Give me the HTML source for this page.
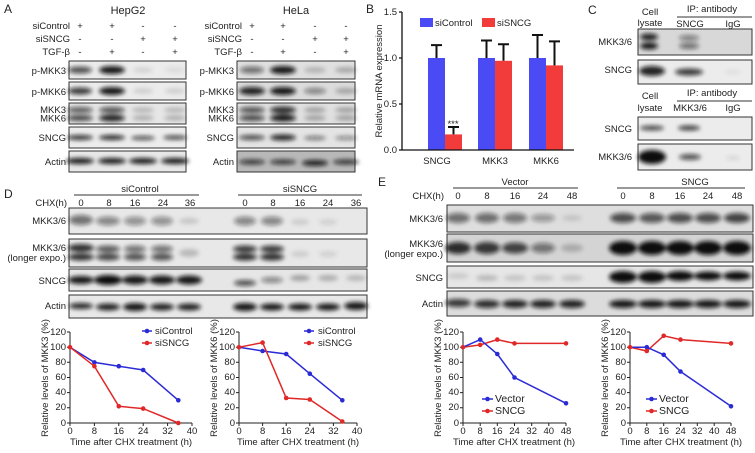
<!DOCTYPE html>
<html><head><meta charset="utf-8"><style>
body{margin:0;background:#fff}
svg{display:block;font-family:"Liberation Sans",sans-serif}
text{fill:#222}
.s{font-size:9.5px}.m{font-size:11px}.l{font-size:12px}
.r{text-anchor:end}.c{text-anchor:middle}
</style></head><body>
<svg width="755" height="453" viewBox="0 0 755 453">
<defs>
<filter id="b" x="-50%" y="-80%" width="200%" height="260%"><feGaussianBlur stdDeviation="2"/></filter>
</defs>

<!-- ===== Panel A ===== -->
<text x="4" y="13" class="l">A</text>
<text x="128" y="14" class="m c">HepG2</text>
<text x="296" y="14" class="m c">HeLa</text>
<g class="s">
<text x="70" y="29" class="r">siControl</text><text x="70" y="42" class="r">siSNCG</text><text x="70" y="55" class="r">TGF-β</text>
<text x="80" y="29" class="c">+</text><text x="112" y="29" class="c">+</text><text x="143" y="29" class="c">-</text><text x="175" y="29" class="c">-</text>
<text x="80" y="42" class="c">-</text><text x="112" y="42" class="c">-</text><text x="143" y="42" class="c">+</text><text x="175" y="42" class="c">+</text>
<text x="80" y="55" class="c">-</text><text x="112" y="55" class="c">+</text><text x="143" y="55" class="c">-</text><text x="175" y="55" class="c">+</text>
<text x="242" y="29" class="r">siControl</text><text x="242" y="42" class="r">siSNCG</text><text x="242" y="55" class="r">TGF-β</text>
<text x="252" y="29" class="c">+</text><text x="283" y="29" class="c">+</text><text x="315" y="29" class="c">-</text><text x="346" y="29" class="c">-</text>
<text x="252" y="42" class="c">-</text><text x="283" y="42" class="c">-</text><text x="315" y="42" class="c">+</text><text x="346" y="42" class="c">+</text>
<text x="252" y="55" class="c">-</text><text x="283" y="55" class="c">+</text><text x="315" y="55" class="c">-</text><text x="346" y="55" class="c">+</text>
<text x="66" y="74" class="r">p-MKK3</text><text x="66" y="95" class="r">p-MKK6</text><text x="66" y="113" class="r">MKK3</text><text x="66" y="121.5" class="r">MKK6</text><text x="66" y="141" class="r">SNCG</text><text x="66" y="165" class="r">Actin</text>
<text x="234" y="74" class="r">p-MKK3</text><text x="234" y="95" class="r">p-MKK6</text><text x="234" y="113" class="r">MKK3</text><text x="234" y="121.5" class="r">MKK6</text><text x="234" y="141" class="r">SNCG</text><text x="234" y="165" class="r">Actin</text>
</g>
<g stroke="#333" stroke-width="1">
<rect x="69" y="61" width="117" height="18" fill="#ececec"/><rect x="69" y="82" width="117" height="18" fill="#ececec"/><rect x="69" y="103" width="117" height="21" fill="#e6e6e6"/><rect x="69" y="127" width="117" height="21" fill="#ececec"/><rect x="69" y="151" width="117" height="21" fill="#e8e8e8"/>
<rect x="237" y="61" width="118" height="18" fill="#e0e0e0"/><rect x="237" y="82" width="118" height="18" fill="#dcdcdc"/><rect x="237" y="103" width="118" height="21" fill="#e0e0e0"/><rect x="237" y="127" width="118" height="21" fill="#e4e4e4"/><rect x="237" y="151" width="118" height="21" fill="#b8b8b8"/>
</g>
<g filter="url(#b)" fill="#111">
<ellipse cx="80" cy="70" rx="12" ry="3.5" opacity=".7"/><ellipse cx="112" cy="70" rx="13" ry="4" opacity=".95"/><ellipse cx="143" cy="70" rx="10" ry="3" opacity=".1"/><ellipse cx="175" cy="70" rx="10" ry="3" opacity=".07"/>
<ellipse cx="80" cy="91" rx="12" ry="3.5" opacity=".8"/><ellipse cx="112" cy="91" rx="13" ry="4" opacity=".95"/><ellipse cx="143" cy="91" rx="10" ry="3" opacity=".12"/><ellipse cx="175" cy="91" rx="10" ry="3" opacity=".12"/>
<ellipse cx="80" cy="110" rx="13" ry="3" opacity=".65"/><ellipse cx="80" cy="118" rx="13" ry="3" opacity=".75"/><ellipse cx="112" cy="110" rx="13" ry="3" opacity=".7"/><ellipse cx="112" cy="118" rx="13" ry="3.5" opacity=".9"/><ellipse cx="143" cy="110" rx="11" ry="2.5" opacity=".22"/><ellipse cx="143" cy="118" rx="11" ry="2.5" opacity=".25"/><ellipse cx="175" cy="110" rx="11" ry="2.5" opacity=".22"/><ellipse cx="175" cy="118" rx="11" ry="2.5" opacity=".25"/>
<ellipse cx="80" cy="137.5" rx="13" ry="2.5" opacity=".85"/><ellipse cx="112" cy="137.5" rx="13" ry="2.5" opacity=".9"/><ellipse cx="143" cy="138" rx="12" ry="2" opacity=".75"/><ellipse cx="175" cy="137.5" rx="12" ry="2" opacity=".8"/>
<ellipse cx="80" cy="161" rx="14" ry="3" opacity=".95"/><ellipse cx="112" cy="161" rx="14" ry="3" opacity=".95"/><ellipse cx="143" cy="161" rx="14" ry="3" opacity=".95"/><ellipse cx="175" cy="161" rx="14" ry="3" opacity=".95"/>
<ellipse cx="252" cy="70" rx="12" ry="3.5" opacity=".55"/><ellipse cx="283" cy="70" rx="13" ry="4" opacity=".95"/><ellipse cx="315" cy="70" rx="11" ry="3" opacity=".2"/><ellipse cx="346" cy="70" rx="11" ry="3" opacity=".25"/>
<ellipse cx="252" cy="91" rx="13" ry="4" opacity=".9"/><ellipse cx="283" cy="91" rx="13" ry="4" opacity=".95"/><ellipse cx="315" cy="91" rx="11" ry="3" opacity=".45"/><ellipse cx="346" cy="91" rx="11" ry="3" opacity=".25"/>
<ellipse cx="252" cy="110" rx="13" ry="3" opacity=".7"/><ellipse cx="252" cy="118" rx="13" ry="3" opacity=".75"/><ellipse cx="283" cy="110" rx="13" ry="3.5" opacity=".85"/><ellipse cx="283" cy="118" rx="13" ry="3.5" opacity=".95"/><ellipse cx="315" cy="110" rx="11" ry="2.5" opacity=".3"/><ellipse cx="315" cy="118" rx="11" ry="2.5" opacity=".3"/><ellipse cx="346" cy="110" rx="11" ry="2.5" opacity=".3"/><ellipse cx="346" cy="118" rx="11" ry="2.5" opacity=".3"/>
<ellipse cx="252" cy="137.5" rx="13" ry="2.5" opacity=".75"/><ellipse cx="283" cy="137.5" rx="13" ry="3" opacity=".9"/><ellipse cx="315" cy="138" rx="11" ry="2" opacity=".55"/><ellipse cx="346" cy="138" rx="11" ry="2" opacity=".45"/>
<ellipse cx="252" cy="162" rx="13" ry="2.5" opacity=".8"/><ellipse cx="283" cy="162" rx="13" ry="2.5" opacity=".8"/><ellipse cx="315" cy="163" rx="13" ry="3" opacity=".9"/><ellipse cx="346" cy="162" rx="13" ry="2.5" opacity=".8"/>
</g>

<!-- ===== Panel B ===== -->
<text x="366" y="13" class="l">B</text>
<text transform="translate(382,81) rotate(-90)" class="s c">Relative mRNA expression</text>
<g class="s">
<text x="397" y="15" class="r">1.5</text><text x="397" y="61" class="r">1.0</text><text x="397" y="107" class="r">0.5</text><text x="397" y="153" class="r">0.0</text>
<text x="437" y="164" class="c">SNCG</text><text x="495" y="164" class="c">MKK3</text><text x="546" y="164" class="c">MKK6</text>
<text x="435" y="26">siControl</text><text x="497" y="26">siSNCG</text>
</g>
<rect x="420" y="18" width="13" height="9" fill="#4b4bf5"/><rect x="482" y="18" width="13" height="9" fill="#f23b3b"/>
<g fill="#4b4bf5"><rect x="428" y="58" width="17" height="92"/><rect x="478" y="58" width="17" height="92"/><rect x="529" y="58" width="17" height="92"/></g>
<g fill="#f23b3b"><rect x="445" y="134.4" width="17" height="15.6"/><rect x="495" y="60.8" width="17" height="89.2"/><rect x="546" y="65.4" width="17" height="84.6"/></g>
<g stroke="#111" stroke-width="2" fill="none">
<path d="M436.5 58V45.1M431 45.1h11M453.5 134.4V127M448 127h11M486.5 58V40.5M481 40.5h11M503.5 60.8V44.2M498 44.2h11M537.5 58V35M532 35h11M554.5 65.4V41.4M549 41.4h11"/>
<path d="M402 12V150H574M399 12h3M399 58h3M399 104h3M399 150h3" stroke-width="1.3"/>
</g>
<text x="453" y="127" class="s c">***</text>

<!-- ===== Panel C ===== -->
<text x="588" y="14" class="l">C</text>
<g class="s">
<text x="650" y="15" class="c">Cell</text><text x="650" y="26" class="c">lysate</text>
<text x="712" y="12" class="c">IP: antibody</text><text x="690" y="27" class="c">SNCG</text><text x="733" y="27" class="c">IgG</text>
<text x="632" y="45" class="r">MKK3/6</text><text x="632" y="73" class="r">SNCG</text>
<text x="650" y="99" class="c">Cell</text><text x="650" y="111" class="c">lysate</text>
<text x="712" y="96" class="c">IP: antibody</text><text x="690" y="111" class="c">MKK3/6</text><text x="733" y="111" class="c">IgG</text>
<text x="632" y="132" class="r">SNCG</text><text x="632" y="160" class="r">MKK3/6</text>
</g>
<path d="M677 17H752M677 101H752" stroke="#333"/>
<g stroke="#333"><rect x="638" y="29" width="114" height="26" fill="#d8d8d8"/><rect x="638" y="60" width="114" height="24" fill="#ececec"/><rect x="638" y="117" width="114" height="23" fill="#ececec"/><rect x="638" y="144" width="114" height="26" fill="#ececec"/></g>
<g filter="url(#b)" fill="#111">
<ellipse cx="649" cy="37" rx="9" ry="3.5" opacity=".9"/><ellipse cx="649" cy="46" rx="9" ry="3.5" opacity=".95"/><ellipse cx="689" cy="38" rx="10" ry="3" opacity=".45"/><ellipse cx="689" cy="46" rx="10" ry="3" opacity=".55"/>
<ellipse cx="652" cy="71" rx="13" ry="5" opacity=".9"/><ellipse cx="689" cy="72" rx="14" ry="3.5" opacity=".8"/><ellipse cx="733" cy="72" rx="8" ry="2" opacity=".07"/>
<ellipse cx="652" cy="128" rx="12" ry="2.5" opacity=".75"/><ellipse cx="689" cy="128" rx="11" ry="2.5" opacity=".8"/>
<ellipse cx="652" cy="157" rx="14" ry="7" opacity="1"/><ellipse cx="690" cy="157" rx="11" ry="3" opacity=".7"/><ellipse cx="733" cy="158" rx="7" ry="2" opacity=".1"/>
</g>

<!-- ===== Panel D ===== -->
<text x="4" y="198" class="l">D</text>
<g class="s">
<text x="140" y="192" class="c">siControl</text><text x="300" y="192" class="c">siSNCG</text>
<text x="67" y="206" class="r">CHX(h)</text>
<text x="81" y="206" class="c">0</text><text x="109" y="206" class="c">8</text><text x="135" y="206" class="c">16</text><text x="163" y="206" class="c">24</text><text x="190" y="206" class="c">36</text>
<text x="245" y="206" class="c">0</text><text x="273" y="206" class="c">8</text><text x="300" y="206" class="c">16</text><text x="328" y="206" class="c">24</text><text x="356" y="206" class="c">36</text>
<text x="66" y="224" class="r">MKK3/6</text><text x="66" y="251" class="r">MKK3/6</text><text x="66" y="261" class="r">(longer expo.)</text><text x="66" y="284" class="r">SNCG</text><text x="66" y="309" class="r">Actin</text>
</g>
<path d="M74 195H199M238 195H362" stroke="#333"/>
<g stroke="#333"><rect x="69" y="208" width="298" height="26" fill="#e8e8e8"/><rect x="69" y="239" width="298" height="28" fill="#e8e8e8"/><rect x="69" y="269" width="298" height="22" fill="#e6e6e6"/><rect x="69" y="295" width="298" height="23" fill="#e8e8e8"/></g>
<g filter="url(#b)" fill="#111">
<ellipse cx="81" cy="220" rx="12" ry="5" opacity=".55"/><ellipse cx="108" cy="221" rx="12" ry="4.5" opacity=".45"/><ellipse cx="135" cy="221" rx="11" ry="4.5" opacity=".4"/><ellipse cx="162" cy="221" rx="11" ry="4.5" opacity=".4"/><ellipse cx="189" cy="221" rx="10" ry="3" opacity=".15"/>
<ellipse cx="245" cy="221" rx="11" ry="4.5" opacity=".45"/><ellipse cx="272" cy="221" rx="11" ry="4.5" opacity=".45"/><ellipse cx="300" cy="222" rx="9" ry="3" opacity=".12"/><ellipse cx="328" cy="222" rx="9" ry="3" opacity=".1"/>
<ellipse cx="81" cy="248" rx="13" ry="4" opacity=".85"/><ellipse cx="81" cy="257" rx="13" ry="3.5" opacity=".85"/><ellipse cx="108" cy="249" rx="12" ry="3.5" opacity=".65"/><ellipse cx="108" cy="257" rx="12" ry="3.5" opacity=".75"/><ellipse cx="135" cy="249" rx="11" ry="3.5" opacity=".55"/><ellipse cx="135" cy="257" rx="11" ry="3.5" opacity=".7"/><ellipse cx="162" cy="249" rx="11" ry="3.5" opacity=".55"/><ellipse cx="162" cy="257" rx="11" ry="3.5" opacity=".7"/><ellipse cx="189" cy="253" rx="10" ry="4" opacity=".2"/>
<ellipse cx="245" cy="249" rx="12" ry="3.5" opacity=".8"/><ellipse cx="245" cy="257" rx="12" ry="3.5" opacity=".85"/><ellipse cx="272" cy="249" rx="12" ry="3.5" opacity=".8"/><ellipse cx="272" cy="257" rx="12" ry="3.5" opacity=".85"/><ellipse cx="300" cy="254" rx="9" ry="3" opacity=".12"/><ellipse cx="328" cy="254" rx="9" ry="3" opacity=".1"/>
<ellipse cx="81" cy="280" rx="13" ry="4" opacity=".95"/><ellipse cx="108" cy="280" rx="14" ry="5" opacity="1"/><ellipse cx="135" cy="280" rx="13" ry="4.5" opacity=".95"/><ellipse cx="162" cy="280" rx="13" ry="4.5" opacity=".95"/><ellipse cx="189" cy="280" rx="13" ry="4.5" opacity=".95"/>
<ellipse cx="245" cy="283" rx="11" ry="3" opacity=".7"/><ellipse cx="272" cy="280" rx="11" ry="3" opacity=".45"/><ellipse cx="300" cy="278" rx="10" ry="3" opacity=".3"/><ellipse cx="328" cy="278" rx="10" ry="3" opacity=".25"/><ellipse cx="356" cy="278" rx="10" ry="3" opacity=".2"/>
<ellipse cx="81" cy="306" rx="12" ry="3" opacity=".9"/><ellipse cx="108" cy="307" rx="12" ry="3.5" opacity=".9"/><ellipse cx="135" cy="307" rx="12" ry="4" opacity=".95"/><ellipse cx="162" cy="307" rx="12" ry="3.5" opacity=".9"/><ellipse cx="189" cy="307" rx="12" ry="3.5" opacity=".9"/>
<ellipse cx="245" cy="307" rx="12" ry="4" opacity=".95"/><ellipse cx="272" cy="307" rx="12" ry="3.5" opacity=".95"/><ellipse cx="300" cy="307" rx="12" ry="3.5" opacity=".95"/><ellipse cx="328" cy="307" rx="12" ry="3.5" opacity=".95"/><ellipse cx="356" cy="306" rx="12" ry="4" opacity=".95"/>
</g>

<!-- plots -->
<g class="s">
<text transform="translate(48,378) rotate(-90)" class="c">Relative levels of MKK3 (%)</text>
<text transform="translate(217,378) rotate(-90)" class="c">Relative levels of MKK6 (%)</text>
<g class="r">
<text x="66" y="335">120</text><text x="66" y="350">100</text><text x="66" y="365">80</text><text x="66" y="380">60</text><text x="66" y="395">40</text><text x="66" y="410">20</text><text x="66" y="426">0</text>
<text x="235" y="335">120</text><text x="235" y="350">100</text><text x="235" y="365">80</text><text x="235" y="380">60</text><text x="235" y="395">40</text><text x="235" y="410">20</text><text x="235" y="426">0</text>
<text x="459" y="335">120</text><text x="459" y="350">100</text><text x="459" y="365">80</text><text x="459" y="380">60</text><text x="459" y="395">40</text><text x="459" y="410">20</text><text x="459" y="426">0</text>
<text x="626" y="335">120</text><text x="626" y="350">100</text><text x="626" y="365">80</text><text x="626" y="380">60</text><text x="626" y="395">40</text><text x="626" y="410">20</text><text x="626" y="426">0</text>
</g>
<g class="c">
<text x="70" y="434">0</text><text x="94.4" y="434">8</text><text x="118.8" y="434">16</text><text x="143.2" y="434">24</text><text x="167.6" y="434">32</text><text x="192" y="434">40</text>
<text x="239" y="434">0</text><text x="262.6" y="434">8</text><text x="286.2" y="434">16</text><text x="309.8" y="434">24</text><text x="333.4" y="434">32</text><text x="357" y="434">40</text>
<text x="463" y="434">0</text><text x="480.2" y="434">8</text><text x="497.3" y="434">16</text><text x="514.5" y="434">24</text><text x="531.7" y="434">32</text><text x="548.8" y="434">40</text><text x="566" y="434">48</text>
<text x="630" y="434">0</text><text x="646.8" y="434">8</text><text x="663.7" y="434">16</text><text x="680.5" y="434">24</text><text x="697.3" y="434">32</text><text x="714.2" y="434">40</text><text x="731" y="434">48</text>
<text x="131" y="445">Time after CHX treatment (h)</text><text x="298" y="445">Time after CHX treatment (h)</text>
<text x="514" y="445">Time after CHX treatment (h)</text><text x="681" y="445">Time after CHX treatment (h)</text>
</g>
<text x="155" y="334">siControl</text><text x="155" y="346">siSNCG</text>
<text x="318" y="334">siControl</text><text x="318" y="346">siSNCG</text>
<text transform="translate(441,378) rotate(-90)" class="c">Relative levels of MKK3 (%)</text>
<text transform="translate(608,378) rotate(-90)" class="c">Relative levels of MKK6 (%)</text>
<text x="495" y="402" style="font-size:10.5px">Vector</text><text x="495" y="414" style="font-size:10.5px">SNCG</text>
<text x="659" y="402" style="font-size:10.5px">Vector</text><text x="659" y="414" style="font-size:10.5px">SNCG</text>
</g>
<g stroke="#222" fill="none" stroke-width="1">
<path d="M70 332V423H192M67 332h3M67 347.2h3M67 362.3h3M67 377.5h3M67 392.6h3M67 407.8h3M67 423h3M70 423v3M94.4 423v3M118.8 423v3M143.2 423v3M167.6 423v3M192 423v3"/>
<path d="M239 332V423H357M236 332h3M236 347.2h3M236 362.3h3M236 377.5h3M236 392.6h3M236 407.8h3M236 423h3M239 423v3M262.6 423v3M286.2 423v3M309.8 423v3M333.4 423v3M357 423v3"/>
<path d="M463 332V423H566M460 332h3M460 347.2h3M460 362.3h3M460 377.5h3M460 392.6h3M460 407.8h3M460 423h3M463 423v3M480.2 423v3M497.3 423v3M514.5 423v3M531.7 423v3M548.8 423v3M566 423v3"/>
<path d="M630 332V423H731M627 332h3M627 347.2h3M627 362.3h3M627 377.5h3M627 392.6h3M627 407.8h3M627 423h3M630 423v3M646.8 423v3M663.7 423v3M680.5 423v3M697.3 423v3M714.2 423v3M731 423v3"/>
</g>
<g fill="none" stroke-width="1.5">
<polyline stroke="#2b2bd6" points="70,347.2 94.4,362.4 118.8,366.2 143.2,370 178.3,400.3"/>
<polyline stroke="#e02828" points="70,347.2 94.4,366.2 118.8,406.3 143.2,408.6 178.3,423"/>
<polyline stroke="#2b2bd6" points="239,347.2 262.6,351 286.2,354 309.8,373.7 342.3,400.3"/>
<polyline stroke="#e02828" points="239,347.2 262.6,342.6 286.2,398 309.8,399.5 342.3,421.5"/>
<polyline stroke="#e02828" points="463,347.2 480.2,344.9 497.3,339.6 514.5,343.4 566,343.4"/>
<polyline stroke="#2b2bd6" points="463,347.2 480.2,339.6 497.3,354 514.5,377.5 566,403.3"/>
<polyline stroke="#e02828" points="630,347.2 646.8,351 663.7,335.8 680.5,339.6 731,343.4"/>
<polyline stroke="#2b2bd6" points="630,347.2 646.8,347.2 663.7,354.8 680.5,371.5 731,406.3"/>
<path stroke="#2b2bd6" d="M142 331h10M304 331h10M482 399h11M646 399h11"/>
<path stroke="#e02828" d="M142 343h10M304 343h10M482 411h11M646 411h11"/>
</g>
<g fill="#2b2bd6">
<circle cx="94.4" cy="362.4" r="2.3"/><circle cx="118.8" cy="366.2" r="2.3"/><circle cx="143.2" cy="370" r="2.3"/><circle cx="178.3" cy="400.3" r="2.3"/><circle cx="147" cy="331" r="2.3"/>
<circle cx="262.6" cy="351" r="2.3"/><circle cx="286.2" cy="354" r="2.3"/><circle cx="309.8" cy="373.7" r="2.3"/><circle cx="342.3" cy="400.3" r="2.3"/><circle cx="309" cy="331" r="2.3"/>
<circle cx="480.2" cy="339.6" r="2.3"/><circle cx="497.3" cy="354" r="2.3"/><circle cx="514.5" cy="377.5" r="2.3"/><circle cx="566" cy="403.3" r="2.3"/><circle cx="487.5" cy="399" r="2.3"/>
<circle cx="646.8" cy="347.2" r="2.3"/><circle cx="663.7" cy="354.8" r="2.3"/><circle cx="680.5" cy="371.5" r="2.3"/><circle cx="731" cy="406.3" r="2.3"/><circle cx="651.5" cy="399" r="2.3"/>
</g>
<g fill="#e02828">
<circle cx="70" cy="347.2" r="2.3"/><circle cx="94.4" cy="366.2" r="2.3"/><circle cx="118.8" cy="406.3" r="2.3"/><circle cx="143.2" cy="408.6" r="2.3"/><circle cx="178.3" cy="423" r="2.3"/><circle cx="147" cy="343" r="2.3"/>
<circle cx="239" cy="347.2" r="2.3"/><circle cx="262.6" cy="342.6" r="2.3"/><circle cx="286.2" cy="398" r="2.3"/><circle cx="309.8" cy="399.5" r="2.3"/><circle cx="342.3" cy="421.5" r="2.3"/><circle cx="309" cy="343" r="2.3"/>
<circle cx="463" cy="347.2" r="2.3"/><circle cx="480.2" cy="344.9" r="2.3"/><circle cx="497.3" cy="339.6" r="2.3"/><circle cx="514.5" cy="343.4" r="2.3"/><circle cx="566" cy="343.4" r="2.3"/><circle cx="487.5" cy="411" r="2.3"/>
<circle cx="630" cy="347.2" r="2.3"/><circle cx="646.8" cy="351" r="2.3"/><circle cx="663.7" cy="335.8" r="2.3"/><circle cx="680.5" cy="339.6" r="2.3"/><circle cx="731" cy="343.4" r="2.3"/><circle cx="651.5" cy="411" r="2.3"/>
</g>

<!-- ===== Panel E ===== -->
<text x="378" y="186" class="l">E</text>
<g class="s">
<text x="515" y="185" class="c">Vector</text><text x="695" y="185" class="c">SNCG</text>
<text x="444" y="199" class="r">CHX(h)</text>
<text x="458" y="199" class="c">0</text><text x="487" y="199" class="c">8</text><text x="515" y="199" class="c">16</text><text x="543" y="199" class="c">24</text><text x="572" y="199" class="c">48</text>
<text x="623" y="199" class="c">0</text><text x="652" y="199" class="c">8</text><text x="680" y="199" class="c">16</text><text x="708" y="199" class="c">24</text><text x="737" y="199" class="c">48</text>
<text x="443" y="222" class="r">MKK3/6</text><text x="443" y="247" class="r">MKK3/6</text><text x="443" y="257" class="r">(longer expo.)</text><text x="443" y="281" class="r">SNCG</text><text x="443" y="307" class="r">Actin</text>
</g>
<path d="M453 188H578M617 188H745" stroke="#333"/>
<g stroke="#333"><rect x="447" y="205" width="306" height="27" fill="#dedede"/><rect x="447" y="234" width="306" height="28" fill="#d4d4d4"/><rect x="447" y="266" width="306" height="22" fill="#e6e6e6"/><rect x="447" y="291" width="306" height="25" fill="#dcdcdc"/></g>
<g filter="url(#b)" fill="#111">
<ellipse cx="458" cy="218" rx="12" ry="5" opacity=".55"/><ellipse cx="487" cy="218" rx="12" ry="5" opacity=".55"/><ellipse cx="515" cy="218" rx="12" ry="5" opacity=".5"/><ellipse cx="543" cy="218" rx="12" ry="4" opacity=".35"/><ellipse cx="572" cy="218" rx="10" ry="3" opacity=".12"/>
<ellipse cx="623" cy="218" rx="13" ry="5" opacity=".7"/><ellipse cx="652" cy="218" rx="13" ry="5" opacity=".65"/><ellipse cx="680" cy="218" rx="13" ry="5" opacity=".7"/><ellipse cx="708" cy="218" rx="13" ry="5" opacity=".7"/><ellipse cx="737" cy="218" rx="13" ry="5" opacity=".75"/>
<ellipse cx="458" cy="248" rx="13" ry="6" opacity=".85"/><ellipse cx="487" cy="248" rx="13" ry="6" opacity=".8"/><ellipse cx="515" cy="248" rx="13" ry="5.5" opacity=".75"/><ellipse cx="543" cy="248" rx="12" ry="5" opacity=".5"/><ellipse cx="572" cy="248" rx="11" ry="4" opacity=".2"/>
<ellipse cx="623" cy="248" rx="14" ry="7" opacity="1"/><ellipse cx="652" cy="248" rx="14" ry="7" opacity="1"/><ellipse cx="680" cy="248" rx="14" ry="7" opacity="1"/><ellipse cx="708" cy="248" rx="14" ry="7" opacity="1"/><ellipse cx="737" cy="248" rx="14" ry="7" opacity="1"/>
<ellipse cx="458" cy="276" rx="11" ry="3" opacity=".12"/><ellipse cx="487" cy="278" rx="11" ry="3" opacity=".2"/><ellipse cx="515" cy="278" rx="11" ry="3" opacity=".15"/><ellipse cx="543" cy="278" rx="11" ry="3" opacity=".15"/><ellipse cx="572" cy="278" rx="11" ry="3" opacity=".15"/>
<ellipse cx="623" cy="277" rx="14" ry="6" opacity="1"/><ellipse cx="652" cy="277" rx="14" ry="6" opacity="1"/><ellipse cx="680" cy="276" rx="14" ry="5" opacity="1"/><ellipse cx="708" cy="276" rx="14" ry="4.5" opacity="1"/><ellipse cx="737" cy="276" rx="14" ry="4.5" opacity="1"/>
<ellipse cx="458" cy="303" rx="13" ry="4" opacity=".8"/><ellipse cx="487" cy="304" rx="13" ry="4" opacity=".85"/><ellipse cx="515" cy="304" rx="13" ry="4" opacity=".9"/><ellipse cx="543" cy="304" rx="13" ry="4" opacity=".9"/><ellipse cx="572" cy="304" rx="13" ry="4" opacity=".9"/>
<ellipse cx="623" cy="304" rx="14" ry="4" opacity=".95"/><ellipse cx="652" cy="304" rx="14" ry="4" opacity=".95"/><ellipse cx="680" cy="304" rx="14" ry="4" opacity=".95"/><ellipse cx="708" cy="304" rx="14" ry="4" opacity=".95"/><ellipse cx="737" cy="304" rx="14" ry="4" opacity=".95"/>
</g>
</svg>
</body></html>
